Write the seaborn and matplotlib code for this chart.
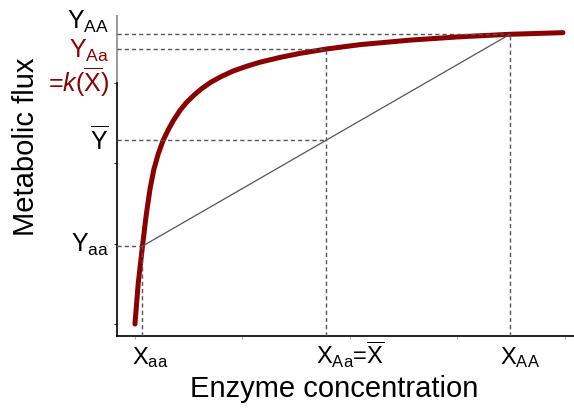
import matplotlib
matplotlib.use("Agg")
import matplotlib.pyplot as plt
import numpy as np
import seaborn as sns

# curve (enzyme concentration vs metabolic flux)
enzyme = [0.0, 0.03, 0.07, 0.105, 0.14, 0.175, 0.217, 0.26, 0.31, 0.36, 0.419,
          0.48, 0.549, 0.62, 0.704, 0.80, 0.912, 1.04, 1.163, 1.35, 1.535,
          1.783, 2.1, 2.558, 3.0, 3.488, 3.981]
flux = [0.0, 0.50, 0.97, 1.36, 1.68, 1.92, 2.12, 2.28, 2.42, 2.54, 2.66,
        2.76, 2.85, 2.93, 3.01, 3.08, 3.15, 3.21, 3.26, 3.32, 3.37,
        3.425, 3.48, 3.535, 3.575, 3.608, 3.628]

# genotype points aa, Aa, AA
x_geno = [0.07, 1.779, 3.488]
y_geno = [0.97, 3.425, 3.608]
y_mean = 2.29

x_labels = [r"X$_{\mathrm{aa}}$", r"X$_{\mathrm{Aa}}$=$\overline{\mathrm{X}}$", r"X$_{\mathrm{AA}}$"]

XLIM = (-0.167, 4.084)
YLIM = (-0.149, 3.848)
RED = "#8b0000"
GREY = "#555555"

sns.set_theme(style="white")
plt.rcParams["font.family"] = ["Liberation Sans", "DejaVu Sans"]
plt.rcParams["mathtext.fontset"] = "custom"
plt.rcParams["mathtext.rm"] = "Liberation Sans"
plt.rcParams["mathtext.it"] = "Liberation Sans:italic"
plt.rcParams["text.color"] = "black"
plt.rcParams["axes.labelcolor"] = "black"

fig = plt.figure(figsize=(5.74, 4.15), dpi=100)
ax = fig.add_axes([117 / 574, 79 / 415, 457 / 574, 321 / 415])

sns.lineplot(x=enzyme, y=flux, ax=ax, color=RED, lw=3.6, estimator=None,
             solid_capstyle="round", solid_joinstyle="round", zorder=2)

# chord between the homozygotes
ax.plot([x_geno[0], x_geno[2]], [y_geno[0], y_geno[2]], color=GREY, lw=0.9, zorder=2)

dash = (0, (3, 2.2))
ax.hlines([y_geno[2], y_geno[1], y_mean, y_geno[0]], XLIM[0],
          [x_geno[2], x_geno[1], x_geno[1], x_geno[0]],
          colors=GREY, lw=1, linestyles=dash, zorder=3)
ax.vlines(x_geno, YLIM[0], [y_geno[0], y_geno[1], y_geno[2]],
          colors=GREY, lw=1, linestyles=dash, zorder=3)

ax.set_xlim(*XLIM)
ax.set_ylim(*YLIM)
sns.despine(ax=ax)
ax.spines["left"].set_bounds(YLIM[0], 3.0)
ax.vlines(XLIM[0], 3.0, YLIM[1], colors="#888888", lw=1.2, clip_on=False)
for s in ["left", "bottom"]:
    ax.spines[s].set_color("black")
    ax.spines[s].set_linewidth(1.2)

ax.set_xticks(np.arange(0, 5))
ax.set_yticks(np.arange(0, 4))
ax.set_xticklabels([])
ax.set_yticklabels([])
ax.tick_params(axis="x", length=2.5, width=0.8, color="#aaaaaa", bottom=True)
ax.tick_params(axis="y", length=2.5, width=0.8, color="#333333", left=True)

# x labels under the genotype lines
for x, lab in zip(x_geno, x_labels):
    ax.annotate(lab, xy=(x, YLIM[0]), xytext=(-10, -28), textcoords="offset pixels",
                ha="left", va="baseline", fontsize=17)

# y labels left of the axis
ylabs = [
    (r"Y$_{\mathrm{AA}}$", y_geno[2], 5, "black"),
    (r"Y$_{\mathrm{Aa}}$", y_geno[1], -9, RED),
    (r"=$k$($\overline{\mathrm{X}}$)", 3.0, -9, RED),
    (r"$\overline{\mathrm{Y}}$", y_mean, -10, "black"),
    (r"Y$_{\mathrm{aa}}$", y_geno[0], -6, "black"),
]
for lab, y, dy, col in ylabs:
    ax.annotate(lab, xy=(XLIM[0], y), xytext=(-8, dy), textcoords="offset pixels",
                ha="right", va="baseline", fontsize=18, color=col)

ax.set_xlabel("Enzyme concentration", fontsize=21)
ax.set_ylabel("Metabolic flux", fontsize=21)
ax.xaxis.set_label_coords(0.475, -0.123)
ax.yaxis.set_label_coords(-0.168, 0.59)

plt.savefig("out.png", dpi=100)
